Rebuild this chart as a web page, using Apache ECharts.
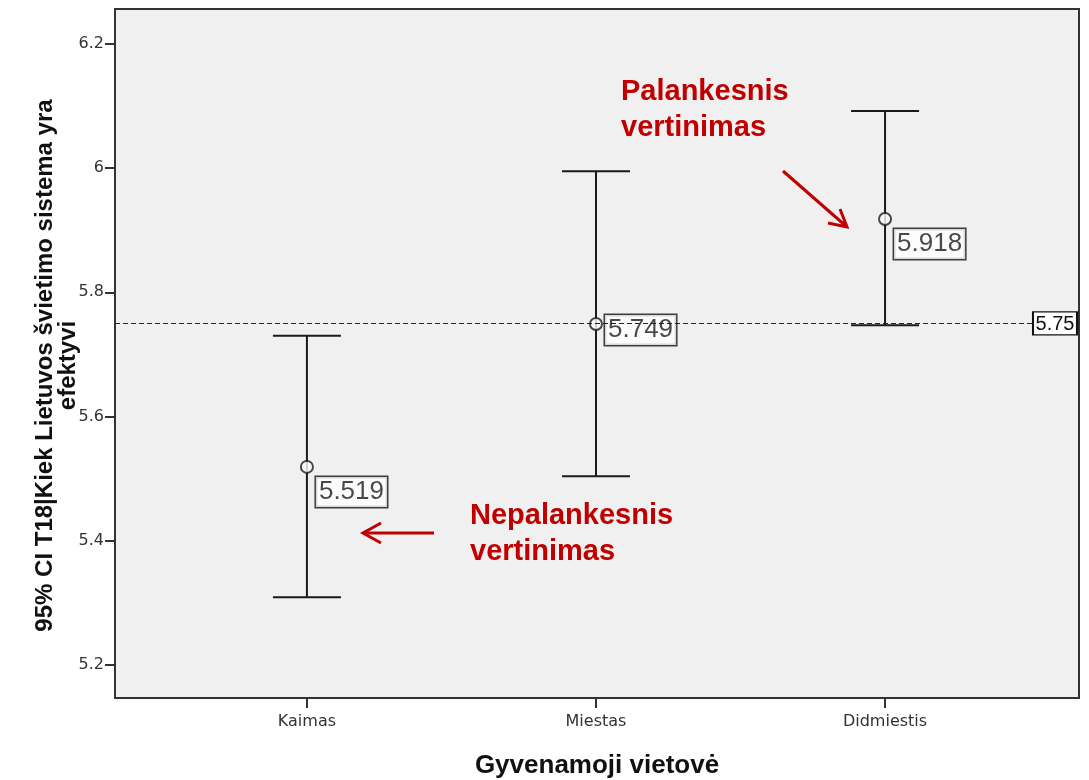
<!DOCTYPE html>
<html>
<head>
<meta charset="utf-8">
<script src="https://cdn.jsdelivr.net/npm/echarts@6/dist/echarts.min.js"></script>
<style>
  html, body { margin: 0; padding: 0; background: #fff; }
  #main { width: 1089px; height: 780px; }
</style>
</head>
<body>
<div id="main"></div>
<script>
var categories = ['Kaimas', 'Miestas', 'Didmiestis'];
var means = [5.519, 5.749, 5.918];
var lowerCI = [5.309, 5.504, 5.747];
var upperCI = [5.730, 5.995, 6.092];
var refValue = 5.75;
var yTicks = [5.2, 5.4, 5.6, 5.8, 6, 6.2];

var chart = echarts.init(document.getElementById('main'));

var xMin = 0.336, xMax = 3.671;
var labelOffsets = [[0, 25], [0, 6], [0, 25]];   // SPSS pushes the middle label up

var barData = categories.map(function (c, i) { return [i + 1, lowerCI[i], upperCI[i]]; });
var meanData = categories.map(function (c, i) {
  return {
    value: [i + 1, means[i]],
    label: { offset: labelOffsets[i] }
  };
});

var font = 'Liberation Sans, Arial, sans-serif';
var tickFont = 'DejaVu Sans, sans-serif';
var red = '#c00000';

option = {
  animation: false,
  backgroundColor: '#fff',
  grid: {
    left: 115, top: 9, right: 10, bottom: 82,
    outerBoundsMode: 'none', containLabel: false,
    show: true, backgroundColor: '#f0f0f0', borderColor: '#333', borderWidth: 2
  },
  xAxis: {
    type: 'value', min: xMin, max: xMax,
    name: 'Gyvenamoji vietovė', nameLocation: 'middle', nameGap: 55,
    nameTextStyle: { fontFamily: font, fontWeight: 'bold', fontSize: 26, color: '#111' },
    axisLine: { show: false },
    splitLine: { show: false },
    axisTick: { show: true, length: 10, lineStyle: { color: '#333', width: 2 }, customValues: [1, 2, 3] },
    axisLabel: {
      fontFamily: tickFont, fontSize: 16, color: '#333', margin: 16,
      customValues: [1, 2, 3],
      formatter: function (v) { return categories[Math.round(v) - 1] || ''; }
    }
  },
  yAxis: {
    type: 'value', min: 5.147, max: 6.256,
    name: '95% CI T18|Kiek Lietuvos švietimo sistema yra\nefektyvi',
    nameLocation: 'middle', nameGap: 35, nameMoveOverlap: false,
    nameTextStyle: {
      fontFamily: font, fontWeight: 'bold', fontSize: 24, color: '#111', lineHeight: 23,
      padding: [0, 24, 0, 0]
    },
    axisLine: { show: false },
    splitLine: { show: false },
    axisTick: { show: true, length: 10, lineStyle: { color: '#333', width: 2 }, customValues: yTicks },
    axisLabel: {
      fontFamily: tickFont, fontSize: 16, color: '#333', margin: 11,
      customValues: yTicks,
      formatter: function (v) { return String(v); }
    }
  },
  series: [
    {
      type: 'custom',
      data: barData,
      renderItem: function (params, api) {
        var x = api.value(0);
        var lo = api.coord([x, api.value(1)]);
        var hi = api.coord([x, api.value(2)]);
        var hw = 34;
        var st = { stroke: '#1a1a1a', lineWidth: 2 };
        return {
          type: 'group',
          children: [
            { type: 'line', shape: { x1: lo[0], y1: lo[1], x2: hi[0], y2: hi[1] }, style: st },
            { type: 'line', shape: { x1: lo[0] - hw, y1: lo[1], x2: lo[0] + hw, y2: lo[1] }, style: st },
            { type: 'line', shape: { x1: hi[0] - hw, y1: hi[1], x2: hi[0] + hw, y2: hi[1] }, style: st }
          ]
        };
      },
      z: 2
    },
    {
      type: 'scatter',
      data: meanData,
      symbol: 'emptyCircle',
      symbolSize: 12,
      itemStyle: { color: '#1a1a1a', borderWidth: 1.5 },
      label: {
        show: true, position: 'right', distance: 2,
        formatter: function (p) { return p.value[1].toFixed(3); },
        fontFamily: font, fontSize: 26, color: '#1a1a1a',
        backgroundColor: '#fff', borderColor: '#111', borderWidth: 1.5,
        padding: [3, 3, 1, 3]
      },
      markLine: {
        silent: true, symbol: 'none',
        lineStyle: { color: '#222', width: 1, type: [5, 3] },
        label: { show: false },
        data: [{ yAxis: refValue }]
      },
      markPoint: {
        silent: true,
        symbol: 'rect', symbolSize: [44, 23], symbolOffset: [-24, 0],
        itemStyle: { color: '#fff', borderColor: '#111', borderWidth: 1.5 },
        label: {
          show: true, position: 'inside', offset: [0, 1],
          formatter: String(refValue),
          fontFamily: font, fontSize: 20, color: '#111'
        },
        data: [{ coord: [xMax, refValue] }]
      },
      z: 3
    }
  ],
  graphic: [
    {
      type: 'text', left: 621, top: 74,
      style: { text: 'Palankesnis\nvertinimas', fill: red, font: 'bold 29px ' + font, lineHeight: 36 }
    },
    {
      type: 'text', left: 470, top: 498,
      style: { text: 'Nepalankesnis\nvertinimas', fill: red, font: 'bold 29px ' + font, lineHeight: 36 }
    },
    {
      type: 'polyline', shape: { points: [[434, 533], [363, 533]] },
      style: { stroke: red, lineWidth: 3, fill: null }
    },
    {
      type: 'polyline', shape: { points: [[381, 523], [363, 533], [381, 543]] },
      style: { stroke: red, lineWidth: 3, fill: null }
    },
    {
      type: 'polyline', shape: { points: [[783, 171], [847, 227]] },
      style: { stroke: red, lineWidth: 3, fill: null }
    },
    {
      type: 'polyline', shape: { points: [[840, 209], [847, 227], [828, 223]] },
      style: { stroke: red, lineWidth: 3, fill: null }
    }
  ]
};

chart.setOption(option);
</script>
</body>
</html>
